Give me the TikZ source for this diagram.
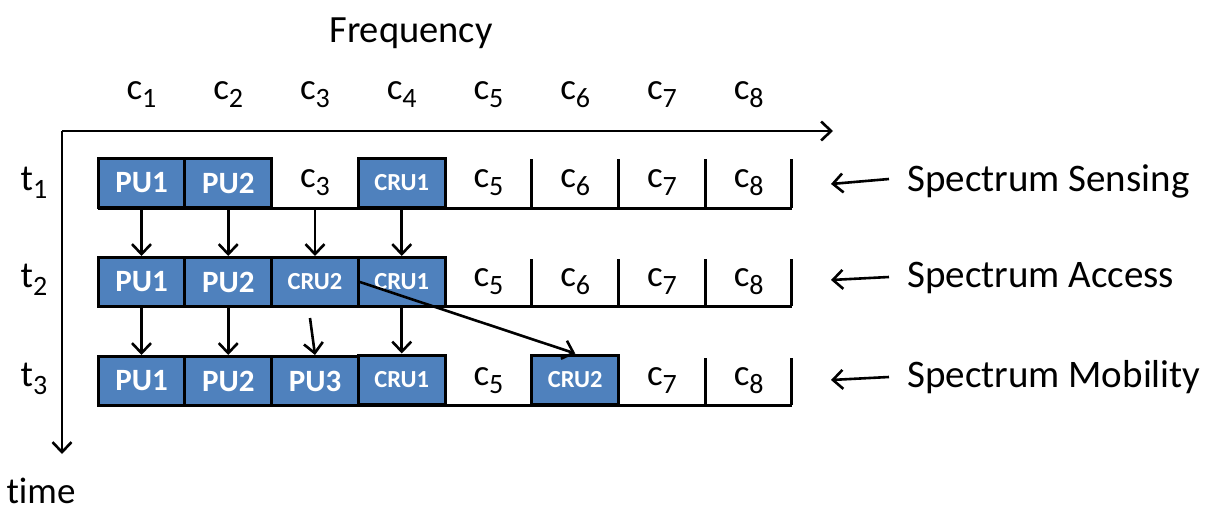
\documentclass[tikz,border=0pt]{standalone}
\usepackage{fontspec}
\setmainfont{Carlito}[Ligatures=NoCommon]
\usetikzlibrary{arrows.meta}
\definecolor{pub}{HTML}{4F81BD}
\newcommand\csub[2]{#1\raisebox{-8pt}{\fontsize{28}{28}\selectfont #2}}
\begin{document}
\begin{tikzpicture}[x=1pt,y=-1pt,
  cellbox/.style={draw=black, line width=3pt, fill=pub, minimum width=86.75pt, minimum height=49pt, inner sep=0pt, text=white, font=\bfseries\fontsize{31}{33}\selectfont},
  crubox/.style={cellbox, font=\bfseries\fontsize{24.5}{26}\selectfont},
  emptycell/.style={minimum width=86.75pt, minimum height=49pt, inner sep=0pt, font=\fontsize{37}{40}\selectfont},
  lbl/.style={font=\fontsize{37}{40}\selectfont, inner sep=0pt},
  biglbl/.style={font=\fontsize{39}{42}\selectfont, inner sep=0pt, anchor=west},
  conn/.style={line width=2.6pt, -{Straight Barb[length=10pt,width=19pt,line width=2.6pt]}},
  rowline/.style={line width=3pt}]
\useasboundingbox (0,0) rectangle (1211,511);
% axes
\coordinate (o) at (62,131);
\coordinate (xe) at (833,131);
\coordinate (ye) at (62,454);
\draw[conn] (o) -- (xe);
\draw[conn] (o) -- (ye);
\node[font=\fontsize{38.5}{40}\selectfont, inner sep=0pt] (freq) at (411,33) {Frequency};
\node[font=\fontsize{37}{40}\selectfont, inner sep=0pt, anchor=base] (time) at (41,503) {time};
% column labels
\foreach \i/\x in {1/141.5,2/228.25,3/315,4/401.75,5/488.5,6/575.25,7/662,8/748.75}{
  \node[lbl] (col\i) at (\x,95) {\csub{c}{\i}};
}
% time labels
\node[lbl] (t1) at (34,183) {\csub{t}{1}};
\node[lbl] (t2) at (34,280) {\csub{t}{2}};
\node[lbl] (t3) at (34,379) {\csub{t}{3}};
% row 1
\draw[rowline] (98,208) -- (792,208);
\foreach \x in {531.5,618.25,705,791.75}{\draw[rowline] (\x,159) -- (\x,208);}
\node[cellbox] (a1) at (141.5,183) {PU1};
\node[cellbox] (a2) at (228.25,183) {PU2};
\node[emptycell] (a3) at (315,183) {\csub{c}{3}};
\node[crubox] (a4) at (401.75,183) {CRU1};
\node[emptycell] (a5) at (488.5,183) {\csub{c}{5}};
\node[emptycell] (a6) at (575.25,183) {\csub{c}{6}};
\node[emptycell] (a7) at (662,183) {\csub{c}{7}};
\node[emptycell] (a8) at (748.75,183) {\csub{c}{8}};
% row 2
\draw[rowline] (98,306) -- (792,306);
\foreach \x in {531.5,618.25,705,791.75}{\draw[rowline] (\x,259) -- (\x,306);}
\node[cellbox] (b1) at (141.5,282) {PU1};
\node[cellbox] (b2) at (228.25,282) {PU2};
\node[crubox] (b3) at (315,282) {CRU2};
\node[crubox] (b4) at (401.75,282) {CRU1};
\node[emptycell] (b5) at (488.5,282) {\csub{c}{5}};
\node[emptycell] (b6) at (575.25,282) {\csub{c}{6}};
\node[emptycell] (b7) at (662,282) {\csub{c}{7}};
\node[emptycell] (b8) at (748.75,282) {\csub{c}{8}};
% row 3
\draw[rowline] (98,405) -- (792,405);
\foreach \x in {705,791.75}{\draw[rowline] (\x,358) -- (\x,405);}
\node[cellbox] (c1) at (141.5,381) {PU1};
\node[cellbox] (c2) at (228.25,381) {PU2};
\node[cellbox] (c3) at (315,381) {PU3};
\node[crubox] (c4) at (401.75,379.5) {CRU1};
\node[emptycell] (c5) at (488.5,381) {\csub{c}{5}};
\node[crubox] (c6) at (575.25,379.5) {CRU2};
\node[emptycell] (c7) at (662,381) {\csub{c}{7}};
\node[emptycell] (c8) at (748.75,381) {\csub{c}{8}};
% transitions
\foreach \i in {1,2,3,4}{\draw[conn] (a\i.south) -- (b\i.north);}
\foreach \i in {1,2,4}{\draw[conn] (b\i.south) -- (c\i.north);}
\coordinate (pu3s) at (310,318);
\draw[conn] (pu3s) -- (c3.north);
\draw[conn] (b3.east) -- (c6.north);
% right labels
\node[biglbl] (s1) at (907,181) {Spectrum Sensing};
\node[biglbl] (s2) at (907,278) {Spectrum Access};
\node[biglbl] (s3) at (907,377) {Spectrum Mobility};
\draw[conn] (889,179) -- (831,184);
\draw[conn] (889,277) -- (831,280);
\draw[conn] (889,377) -- (831,380);
\end{tikzpicture}
\end{document}
